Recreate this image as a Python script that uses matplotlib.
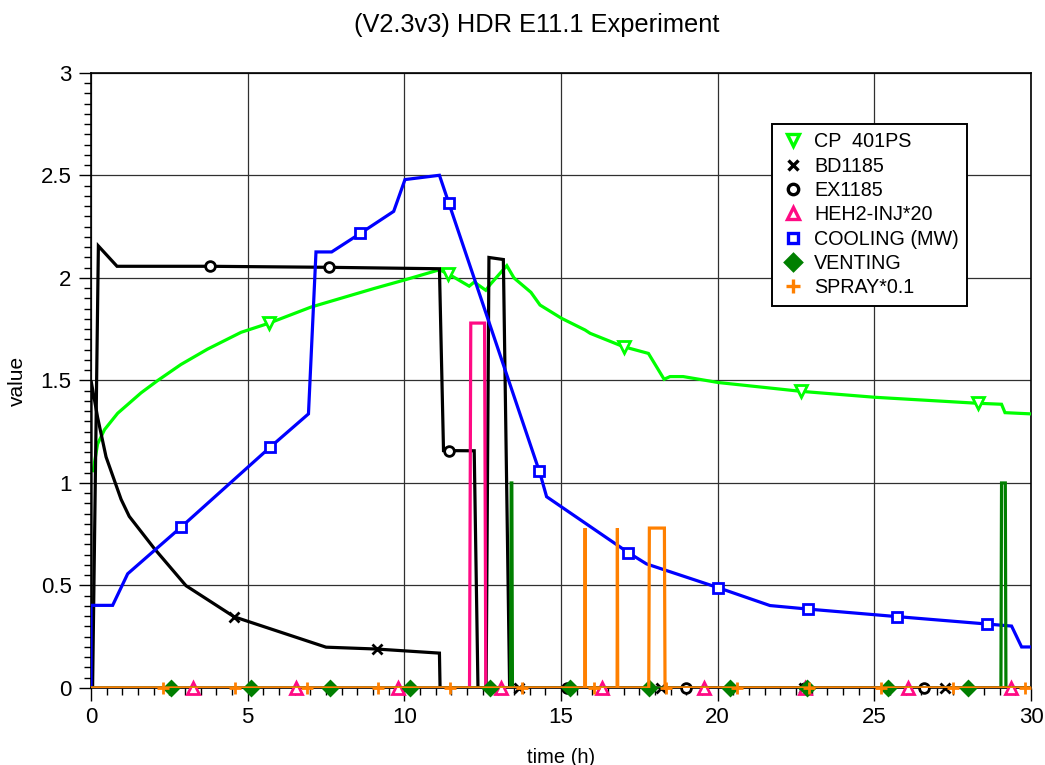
import numpy as np
import matplotlib
matplotlib.use("Agg")
import matplotlib.pyplot as plt
from matplotlib.lines import Line2D
from matplotlib.ticker import MultipleLocator

plt.rcParams['font.family'] = ['Liberation Sans', 'DejaVu Sans']

# ---------------- data ----------------
t_cp = [0.07, 0.1, 0.21, 0.43, 0.85, 1.6, 2.13, 2.87, 3.72, 4.79, 5.69, 7.02, 9.04, 10.0,
        11.12, 11.4, 12.07, 12.23, 12.6, 12.75, 13.27, 13.5, 14.04, 14.33, 15.02, 15.77,
        15.93, 16.99, 17.79, 18.29, 18.48, 18.9, 20.02, 22.66, 25.02, 28.27, 29.06, 29.17, 30.0]
v_cp = [1.06, 1.09, 1.19, 1.26, 1.34, 1.44, 1.50, 1.578, 1.653, 1.735, 1.78, 1.858, 1.949, 1.99,
        2.04, 2.02, 1.96, 1.98, 1.94, 1.97, 2.06, 2.0, 1.93, 1.868, 1.803, 1.746,
        1.73, 1.665, 1.632, 1.506, 1.519, 1.519, 1.49, 1.447, 1.418, 1.389, 1.384, 1.343, 1.337]
mk_cp = [5.69, 11.38, 17.0, 22.66, 28.3]

t_bd = [0.0, 0.0, 0.21, 0.48, 0.96, 1.22, 2.02, 3.03, 4.57, 7.5, 9.1, 11.12, 11.14, 30.0]
v_bd = [0.0, 1.50, 1.32, 1.127, 0.92, 0.837, 0.68, 0.499, 0.347, 0.199, 0.19, 0.17, 0.0, 0.0]
mk_bd = [4.57, 9.12, 13.67, 18.2, 22.74, 27.27]

t_ex = [0.05, 0.235, 0.83, 3.8, 7.6, 11.12, 11.25, 12.23, 12.35, 12.61, 12.7, 13.16, 13.36, 30.0]
v_ex = [0.0, 2.156, 2.057, 2.057, 2.052, 2.045, 1.158, 1.157, 0.0, 0.0, 2.10, 2.09, 0.0, 0.0]
mk_ex = [3.8, 7.6, 11.42, 15.2, 19.0, 22.8, 26.6]

t_heh = [0.0, 12.08, 12.12, 12.56, 12.6, 30.0]
v_heh = [0.0, 0.0, 1.78, 1.78, 0.0, 0.0]
mk_heh = [3.27, 6.54, 9.81, 13.08, 16.32, 19.56, 22.8, 26.09, 29.36]

t_cool = [0.0, 0.0, 0.69, 1.17, 2.87, 5.72, 6.94, 7.18, 7.68, 8.59, 9.66, 10.02, 11.12,
          14.33, 14.54, 17.15, 17.73, 20.02, 21.67, 22.87, 25.73, 28.59, 29.38, 29.7, 30.0]
v_cool = [0.0, 0.403, 0.403, 0.557, 0.784, 1.175, 1.337, 2.127, 2.127, 2.217, 2.325, 2.48, 2.501,
          1.047, 0.933, 0.66, 0.605, 0.489, 0.402, 0.385, 0.348, 0.312, 0.302, 0.2, 0.2]
mk_cool = [2.87, 5.72, 8.59, 11.42, 14.3, 17.15, 20.0, 22.87, 25.73, 28.59]

t_vent = [0.0, 13.39, 13.41, 13.43, 13.45, 29.04, 29.06, 29.18, 29.2, 30.0]
v_vent = [0.0, 0.0, 1.0, 1.0, 0.0, 0.0, 1.0, 1.0, 0.0, 0.0]
mk_vent = [2.54, 5.09, 7.63, 10.18, 12.74, 15.28, 17.8, 20.4, 22.86, 25.45, 27.98]

t_spray = [0.0, 15.76, 15.77, 15.78, 16.79, 16.8, 16.81, 17.8, 17.82, 18.3, 18.32, 30.0]
v_spray = [0.0, 0.0, 0.78, 0.0, 0.0, 0.78, 0.0, 0.0, 0.78, 0.78, 0.0, 0.0]
mk_spray = [2.3, 4.59, 6.88, 9.17, 11.46, 13.76, 16.05, 18.34, 20.63, 22.92, 25.21, 27.5, 29.8]

series = [
    ("CP  401PS", t_cp, v_cp, mk_cp, '#00ff00', 'v', False, 8.0),
    ("BD1185", t_bd, v_bd, mk_bd, 'black', 'x', True, 6.5),
    ("EX1185", t_ex, v_ex, mk_ex, 'black', 'o', False, 7.0),
    ("HEH2-INJ*20", t_heh, v_heh, mk_heh, '#ff0a84', '^', False, 8.0),
    ("COOLING (MW)", t_cool, v_cool, mk_cool, '#0000ff', 's', False, 6.5),
    ("VENTING", t_vent, v_vent, mk_vent, '#007f00', 'D', True, 7.5),
    ("SPRAY*0.1", t_spray, v_spray, mk_spray, '#ff8000', '+', True, 9.0),
]

fig = plt.figure(figsize=(10.45, 7.65), dpi=100)
ax = fig.add_axes([0.0871, 0.1007, 0.8995, 0.8039])

handles = []
for i, (name, t, v, mk, col, m, filled, ms) in enumerate(series):
    z = 3 + i
    ax.plot(t, v, color=col, lw=2.3, zorder=z, solid_joinstyle='miter')
    my = np.interp(mk, t, v)
    face = col if filled else 'white'
    ax.plot(mk, my, linestyle='none', marker=m, markersize=ms, markeredgecolor=col,
            markerfacecolor=face, markeredgewidth=2.0, zorder=z, clip_on=False)
    handles.append(Line2D([], [], linestyle='none', marker=m, markersize=ms + 0.5,
                          markeredgecolor=col, markerfacecolor=face, markeredgewidth=2.4,
                          label=name))

ax.set_xlim(0, 30)
ax.set_ylim(0, 3)
ax.set_xticks(np.arange(0, 31, 5))
ax.set_yticks(np.arange(0, 3.01, 0.5))
ax.set_yticklabels(['0', '0.5', '1', '1.5', '2', '2.5', '3'])
ax.xaxis.set_minor_locator(MultipleLocator(0.5))
ax.yaxis.set_minor_locator(MultipleLocator(0.05))
ax.tick_params(which='major', direction='out', length=9, width=1.0, labelsize=16, pad=5)
ax.tick_params(which='minor', direction='out', length=5, width=1.0)
ax.grid(True, which='major', color='#303030', lw=0.9, zorder=1)
for s in ax.spines.values():
    s.set_linewidth(1.2)

ax.set_xlabel('time (h)', fontsize=14.5, labelpad=14)
ax.set_ylabel('value', fontsize=15, labelpad=10)
fig.text(0.514, 0.967, '(V2.3v3) HDR E11.1 Experiment', fontsize=18.3,
         ha='center', va='center')

leg = ax.legend(handles=handles, loc='upper left', bbox_to_anchor=(0.724, 0.917),
                fontsize=14.2, frameon=True, fancybox=False, framealpha=1,
                edgecolor='black', borderpad=0.42, labelspacing=0.27,
                handlelength=1.3, handletextpad=0.45, borderaxespad=0)
leg.get_frame().set_linewidth(1.4)
leg.set_zorder(20)

fig.savefig('out.png', dpi=100)
